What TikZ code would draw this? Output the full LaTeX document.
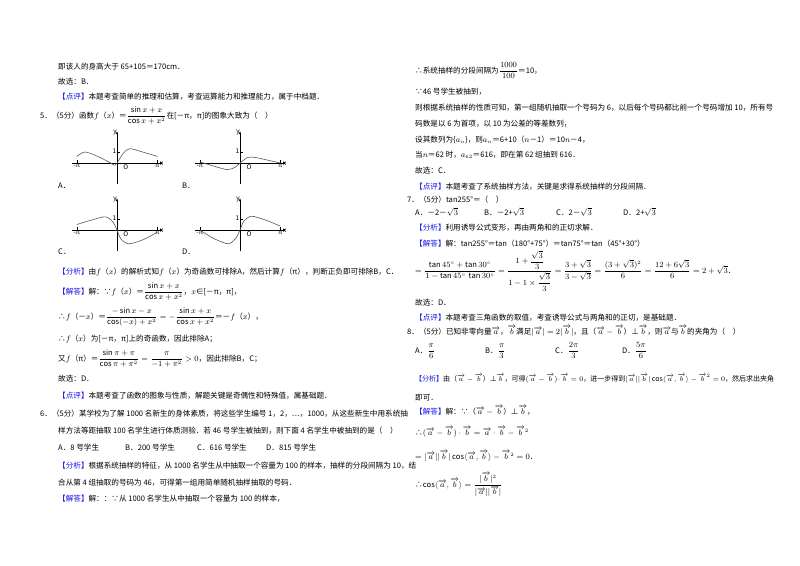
\documentclass[tikz,border=0pt]{standalone}
\usepackage{amsmath,amssymb}
\usepackage{fontspec}
\setmainfont{Noto Sans CJK SC}
\usetikzlibrary{arrows.meta}
\definecolor{tagblue}{RGB}{20,20,230}
\newcommand\bk[1]{{\color{tagblue}【#1】}}
\newcommand\va{\overrightarrow{a}}
\newcommand\vb{\overrightarrow{b}}
\tikzset{tx/.style={anchor=base west,inner sep=0pt,font=\fontsize{7.6}{8}\selectfont},
 ax/.style={line width=0.5pt,-{Latex[length=3pt,width=2.5pt]}},
 crv/.style={line width=0.6pt,gray!70!black},
 lab/.style={inner sep=0pt,font=\fontsize{6.5}{7}\selectfont}}
\newcommand\fgraph[3]{%
 \begin{scope}[shift={(#1pt,-#2pt)},x=12.8pt,y=11pt]
 \draw[ax] (-3.5,0) -- (3.6,0);
 \draw[ax] (0,-1.9) -- (0,2.9);
 \draw (-3.14,0) -- (-3.14,0.3) (3.14,0)--(3.14,0.3) (0,1)--(0.25,1);
 \node[lab,below] (m) at (-3.14,-0.1) {-π};
 \node[lab,below] (p) at (3.14,-0.1) {π};
 \node[lab,below right] (xx) at (3.35,0.1) {x};
 \node[lab,left] (yy) at (0,2.8) {y};
 \node[lab,below left] (o) at (0.9,-0.1) {\itshape O};
 \node[lab,left] (one) at (-0.05,1.1) {1};
 \draw[crv] plot[smooth] coordinates {#3};
 \end{scope}}
\begin{document}
\begin{tikzpicture}[x=1pt,y=-1pt]
\useasboundingbox[fill=white] (0,0) rectangle (800,565);
% left column
\node[tx] (l1) at (58,69) {即该人的身高大于 65+105＝170cm．};
\node[tx] (l2) at (58,84) {故选：\textit{B}．};
\node[tx] (l3) at (58,99) {\bk{点评}本题考查简单的推理和估算，考查运算能力和推理能力，属于中档题．};
\node[tx] (l4) at (40,118) {5．（5分）函数$f$（$x$）＝$\dfrac{\sin x+x}{\cos x+x^2}$在[－π，π]的图象大致为（\quad ）};
\fgraph{117}{163}{(-3.14,0.6) (-2.5,1.0) (-1.5,0.6) (-0.5,0) (-0.2,-0.2) (0,0) (0.5,0.9) (1.0,1.3) (2.0,1.0) (3.14,0.6)}
\fgraph{240}{163}{(-3.14,0.1) (-2,-0.3) (-1,-0.6) (-0.4,-0.4) (0,0) (0.6,0.5) (1.2,0.5) (2.2,0.25) (3.14,0)}
\fgraph{117}{230}{(-3.14,0.5) (-2,0.9) (-0.9,1.2) (-0.3,0.7) (0,0) (0.3,-0.8) (0.9,-1.25) (2,-0.9) (3.14,-0.2)}
\fgraph{240}{230}{(-3.14,0) (-2,-0.8) (-0.9,-1.25) (-0.3,-0.7) (0,0) (0.3,0.8) (0.9,1.25) (2,0.9) (3.14,0.36)}
\node[tx] (ga) at (58,188) {A．};
\node[tx] (gb) at (182,188) {B．};
\node[tx] (gc) at (58,254) {C．};
\node[tx] (gd) at (182,254) {D．};
\node[tx] (l5) at (58,274) {\bk{分析}由$f$（$x$）的解析式知$f$（$x$）为奇函数可排除\textit{A}，然后计算$f$（π），判断正负即可排除\textit{B}，\textit{C}．};
\node[tx] (l6) at (58,294) {\bk{解答}解：∵$f$（$x$）＝$\dfrac{\sin x+x}{\cos x+x^2}$，$x$∈[－π，π]，};
\node[tx] (l7) at (58,319) {∴$f$（－$x$）＝$\dfrac{-\sin x-x}{\cos(-x)+x^2}=-\dfrac{\sin x+x}{\cos x+x^2}$＝－$f$（$x$），};
\node[tx] (l8) at (58,341) {∴$f$（$x$）为[－π，π]上的奇函数，因此排除\textit{A}；};
\node[tx] (l9) at (58,361) {又$f$（π）＝$\dfrac{\sin\pi+\pi}{\cos\pi+\pi^2}=\dfrac{\pi}{-1+\pi^2}>0$，因此排除\textit{B}，\textit{C}；};
\node[tx] (l10) at (58,381) {故选：\textit{D}．};
\node[tx] (l11) at (58,398) {\bk{点评}本题考查了函数的图象与性质，解题关键是奇偶性和特殊值，属基础题．};
\node[tx] (l12) at (40,416) {6．（5分）某学校为了解 1000 名新生的身体素质，将这些学生编号 1，2，…，1000，从这些新生中用系统抽};
\node[tx] (l13) at (58,433) {样方法等距抽取 100 名学生进行体质测验．若 46 号学生被抽到，则下面 4 名学生中被抽到的是（\quad ）};
\node[tx] (o6a) at (58,450) {A．8 号学生};
\node[tx] (o6b) at (125,450) {B．200 号学生};
\node[tx] (o6c) at (197,450) {C．616 号学生};
\node[tx] (o6d) at (266,450) {D．815 号学生};
\node[tx] (l14) at (58,468) {\bk{分析}根据系统抽样的特征，从 1000 名学生从中抽取一个容量为 100 的样本，抽样的分段间隔为 10，结};
\node[tx] (l15) at (58,485) {合从第 4 组抽取的号码为 46，可得第一组用简单随机抽样抽取的号码．};
\node[tx] (l16) at (58,501) {\bk{解答}解：：∵从 1000 名学生从中抽取一个容量为 100 的样本，};
% right column
\node[tx] (r1) at (415,73) {∴系统抽样的分段间隔为$\dfrac{1000}{100}$＝10，};
\node[tx] (r2) at (415,94) {∵46 号学生被抽到，};
\node[tx] (r3) at (415,110) {则根据系统抽样的性质可知，第一组随机抽取一个号码为 6，以后每个号码都比前一个号码增加 10，所有号};
\node[tx] (r4) at (415,126) {码数是以 6 为首项，以 10 为公差的等差数列，};
\node[tx] (r5) at (415,142) {设其数列为\{$a_n$\}，则$a_n$＝6+10（$n$－1）＝10$n$－4，};
\node[tx] (r6) at (415,157) {当$n$＝62 时，$a_{62}$＝616，即在第 62 组抽到 616．};
\node[tx] (r7) at (415,173) {故选：C．};
\node[tx] (r8) at (415,189) {\bk{点评}本题考查了系统抽样方法，关键是求得系统抽样的分段间隔．};
\node[tx] (r9) at (407,202) {7．（5分）tan255°＝（\quad ）};
\node[tx] (o7a) at (415,215) {A．－2－$\sqrt3$};
\node[tx] (o7b) at (484,215) {B．－2+$\sqrt3$};
\node[tx] (o7c) at (556,215) {C．2－$\sqrt3$};
\node[tx] (o7d) at (623,215) {D．2+$\sqrt3$};
\node[tx] (r10) at (415,230) {\bk{分析}利用诱导公式变形，再由两角和的正切求解．};
\node[tx] (r11) at (415,246) {\bk{解答}解：tan255°＝tan（180°+75°）＝tan75°＝tan（45°+30°）};
\node[tx] (r12) at (415,273) {$=\dfrac{\tan45^\circ+\tan30^\circ}{1-\tan45^\circ\,\tan30^\circ}=\dfrac{1+\dfrac{\sqrt3}{3}}{1-1\times\dfrac{\sqrt3}{3}}=\dfrac{3+\sqrt3}{3-\sqrt3}=\dfrac{(3+\sqrt3)^2}{6}=\dfrac{12+6\sqrt3}{6}=2+\sqrt3$．};
\node[tx] (r13) at (415,305) {故选：\textit{D}．};
\node[tx] (r14) at (415,320) {\bk{点评}本题考查三角函数的取值，考查诱导公式与两角和的正切，是基础题．};
\node[tx] (r15) at (407,334) {8．（5分）已知非零向量$\va$，$\vb$满足$|\va|=2|\vb|$，且（$\va-\vb$）⊥$\vb$，则$\va$与$\vb$的夹角为（\quad ）};
\node[tx] (o8a) at (415,353) {A．$\dfrac{\pi}{6}$};
\node[tx] (o8b) at (485,353) {B．$\dfrac{\pi}{3}$};
\node[tx] (o8c) at (555,353) {C．$\dfrac{2\pi}{3}$};
\node[tx] (o8d) at (622,353) {D．$\dfrac{5\pi}{6}$};
\node[tx,font=\fontsize{7}{8}\selectfont] (r16) at (415,381) {\bk{分析}由（$\va-\vb$）⊥$\vb$，可得$(\va-\vb)\!\cdot\!\vb=0$，进一步得到$|\va||\vb|\cos\langle\va,\vb\rangle-\vb^2=0$，然后求出夹角};
\node[tx] (r17) at (415,400) {即可．};
\node[tx] (r18) at (415,414) {\bk{解答}解：∵（$\va-\vb$）⊥$\vb$，};
\node[tx] (r19) at (415,435) {∴$(\va-\vb)\cdot\vb=\va\cdot\vb-\vb^2$};
\node[tx] (r20) at (415,459) {$=|\va||\vb|\cos\langle\va,\vb\rangle-\vb^2=0$．};
\node[tx] (r21) at (415,487) {∴$\cos\langle\va,\vb\rangle=\dfrac{|\vb|^2}{|\va||\vb|}$};
\end{tikzpicture}
\end{document}
